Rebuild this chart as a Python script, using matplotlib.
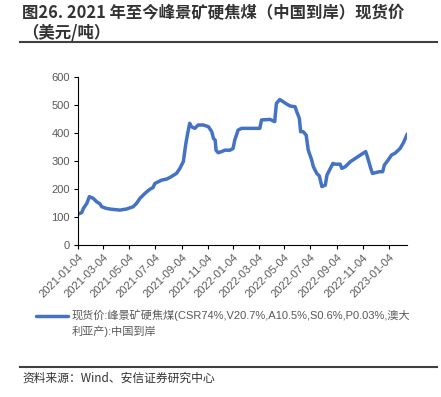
import pandas as pd
import matplotlib.pyplot as plt
import matplotlib.dates as mdates
from matplotlib.lines import Line2D

plt.rcParams['font.family'] = ['Noto Sans CJK SC', 'DejaVu Sans']

# spot price, USD/t
dates = ['2021-01-04', '2021-01-12', '2021-01-16', '2021-01-24', '2021-01-30',
         '2021-02-08', '2021-02-16', '2021-02-24', '2021-02-28', '2021-03-11',
         '2021-03-23', '2021-04-12', '2021-04-28', '2021-05-13', '2021-05-21',
         '2021-05-29', '2021-06-10', '2021-06-21', '2021-06-29', '2021-07-03',
         '2021-07-11', '2021-07-19', '2021-07-31', '2021-08-08', '2021-08-23',
         '2021-08-31', '2021-09-08', '2021-09-14', '2021-09-19', '2021-09-23',
         '2021-09-27', '2021-10-05', '2021-10-13', '2021-10-25', '2021-11-06',
         '2021-11-14', '2021-11-18', '2021-11-22', '2021-11-24', '2021-11-29',
         '2021-12-07', '2021-12-15', '2021-12-27', '2022-01-03', '2022-01-07',
         '2022-01-15', '2022-01-23', '2022-02-12', '2022-03-07', '2022-03-11',
         '2022-03-31', '2022-04-11', '2022-04-15', '2022-04-23', '2022-05-01',
         '2022-05-09', '2022-05-17', '2022-05-29', '2022-06-02', '2022-06-08',
         '2022-06-11', '2022-06-17', '2022-06-24', '2022-06-29', '2022-07-07',
         '2022-07-11', '2022-07-19', '2022-07-25', '2022-07-31', '2022-08-08',
         '2022-08-12', '2022-08-20', '2022-08-26', '2022-08-31', '2022-09-12',
         '2022-09-16', '2022-09-24', '2022-10-06', '2022-10-18', '2022-10-30',
         '2022-11-11', '2022-11-15', '2022-11-23', '2022-11-27', '2022-12-05',
         '2022-12-13', '2022-12-21', '2022-12-25', '2023-01-03', '2023-01-11',
         '2023-01-19', '2023-01-31', '2023-02-08', '2023-02-17']
price = [112, 117, 132, 150, 174,
         168, 156, 148, 138, 132,
         129, 126, 130, 138, 150,
         168, 186, 200, 207, 221,
         227, 233, 237, 243, 257,
         275, 299, 364, 406, 436,
         424, 418, 430, 430, 424,
         406, 382, 376, 340, 331,
         335, 340, 340, 346, 376,
         412, 418, 418, 418, 448,
         450, 442, 507, 521, 513,
         505, 498, 495, 477, 454,
         406, 406, 394, 340, 305,
         281, 257, 248, 210, 215,
         251, 275, 293, 290, 290,
         275, 281, 299, 311, 323,
         335, 317, 275, 257, 260,
         263, 263, 287, 305, 323,
         329, 346, 367, 398]

tick_dates = ['2021-01-04', '2021-03-04', '2021-05-04', '2021-07-04', '2021-09-04',
              '2021-11-04', '2022-01-04', '2022-03-04', '2022-05-04', '2022-07-04',
              '2022-09-04', '2022-11-04', '2023-01-04']

title1 = '图26. 2021 年至今峰景矿硬焦煤（中国到岸）现货价'
title2 = '（美元/吨）'
legend_label1 = '现货价:峰景矿硬焦煤(CSR74%,V20.7%,A10.5%,S0.6%,P0.03%,澳大'
legend_label2 = '利亚产):中国到岸'
source = '资料来源：Wind、安信证券研究中心'

blue = '#4472C4'
grey = '#595959'
latin = ['Liberation Sans', 'Noto Sans CJK SC']

fig = plt.figure(figsize=(4.41, 3.97), dpi=100)
ax = fig.add_axes([0.1776, 0.382, 0.746, 0.423])

x = pd.to_datetime(dates)
ax.plot(x, price, color=blue, linewidth=2.5, solid_capstyle='round')

ax.set_ylim(0, 600)
ax.set_yticks(range(0, 601, 100))
ax.set_xlim(pd.Timestamp('2021-01-04'), pd.Timestamp('2023-02-17'))
ax.set_xticks(pd.to_datetime(tick_dates))
ax.xaxis.set_major_formatter(mdates.DateFormatter('%Y-%m-%d'))

for s in ['top', 'right']:
    ax.spines[s].set_visible(False)
for s in ['left', 'bottom']:
    ax.spines[s].set_color('black')
    ax.spines[s].set_linewidth(0.8)

ax.tick_params(axis='y', labelcolor=grey, color='black', length=3, width=0.8, pad=3)
ax.tick_params(axis='x', labelcolor=grey, color='black', length=3, width=0.8, pad=2)
for lbl in ax.get_yticklabels():
    lbl.set_family(latin)
    lbl.set_fontsize(8)
for lbl in ax.get_xticklabels():
    lbl.set_family(latin)
    lbl.set_fontsize(8)
    lbl.set_rotation(45)
    lbl.set_ha('right')
    lbl.set_rotation_mode('anchor')

# title
fig.text(0.05, 0.99, title1, fontsize=11.8, fontweight='bold', color='#333333',
         va='top', ha='left')
fig.text(0.05, 0.94, title2, fontsize=11.8, fontweight='bold', color='#333333',
         va='top', ha='left')
fig.add_artist(Line2D([0.045, 0.99], [0.893, 0.893], color='#404040', linewidth=1.5))

# legend
fig.add_artist(Line2D([0.082, 0.154], [0.205, 0.205], color=blue, linewidth=2.5,
                      solid_capstyle='round'))
fig.text(0.163, 0.205, legend_label1, fontsize=8, color=grey, va='center', ha='left',
         family=latin)
fig.text(0.163, 0.165, legend_label2, fontsize=8, color=grey, va='center', ha='left',
         family=latin)

# source
fig.add_artist(Line2D([0.045, 0.99], [0.0756, 0.0756], color='#404040', linewidth=1.5))
fig.text(0.05, 0.048, source, fontsize=8.5, color='#333333', va='center', ha='left',
         style='italic')

fig.savefig('out.png', dpi=100)
